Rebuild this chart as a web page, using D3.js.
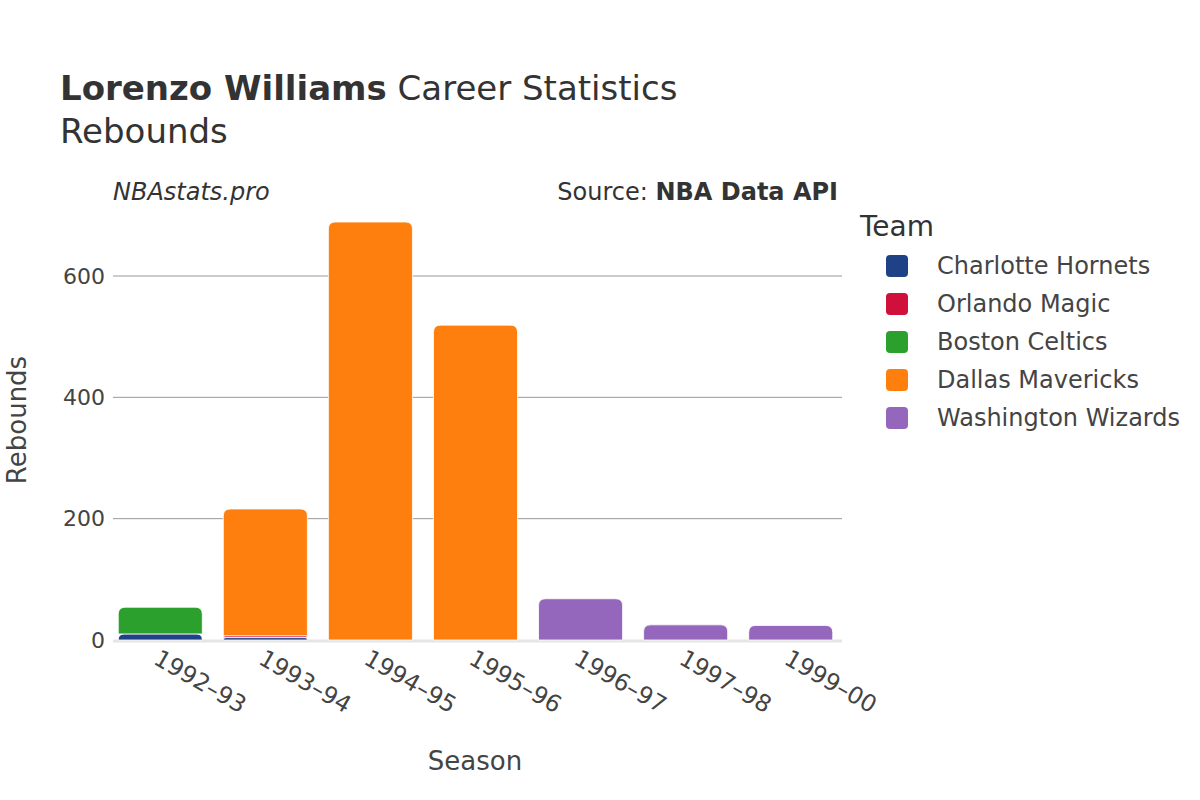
<!DOCTYPE html>
<html><head><meta charset="utf-8">
<script src="https://cdn.jsdelivr.net/npm/d3@7"></script>
<style>body{margin:0;background:#fff;font-family:"DejaVu Sans",sans-serif;}</style>
</head><body><div id="chart"></div>
<script>
const seasons = ["1992-93","1993-94","1994-95","1995-96","1996-97","1997-98","1999-00"];
const teams = ["Charlotte Hornets","Orlando Magic","Boston Celtics","Dallas Mavericks","Washington Wizards"];
const colors = ["#1f4287","#d0103a","#2ca02c","#ff7f0e","#9467bd"];
const charlotte = [10,4,0,0,0,0,0];
const orlando = [0,3,0,0,0,0,0];
const boston = [44,0,0,0,0,0,0];
const dallas = [0,209,689,519,0,0,0];
const washington = [0,0,0,0,68,25,24];
const yTicks = [0,200,400,600];

const series = [charlotte, orlando, boston, dallas, washington];
const width = 1200, height = 800;
const svg = d3.select("#chart").append("svg").attr("width", width).attr("height", height);

const x = d3.scaleBand().domain(seasons).range([113, 838]).paddingInner(0.2).paddingOuter(0.05);
const y = d3.scaleLinear().domain([0, 600]).range([640, 276]);

// gridlines
svg.append("g").selectAll("line").data(yTicks.filter(d => d > 0)).join("line")
  .attr("x1", 113).attr("x2", 842).attr("y1", d => y(d)).attr("y2", d => y(d))
  .attr("stroke", "#999").attr("stroke-width", 1);
svg.append("line").attr("x1", 113).attr("x2", 842).attr("y1", y(0) + 1).attr("y2", y(0) + 1)
  .attr("stroke", "#e5e5e5").attr("stroke-width", 3);

function topRounded(x0, y0, w, h, r) {
  r = Math.min(r, h, w / 2);
  return `M${x0},${y0 + h}V${y0 + r}Q${x0},${y0} ${x0 + r},${y0}H${x0 + w - r}Q${x0 + w},${y0} ${x0 + w},${y0 + r}V${y0 + h}Z`;
}

seasons.forEach((s, i) => {
  let base = 0;
  series.forEach((arr, k) => {
    const v = arr[i];
    if (!v) return;
    const y0 = y(base + v), y1 = y(base);
    svg.append("path")
      .attr("d", topRounded(x(s), y0, x.bandwidth(), y1 - y0, 7))
      .attr("fill", colors[k]).attr("stroke", "#fff").attr("stroke-width", 0.8);
    base += v;
  });
});

// y axis labels
svg.append("g").selectAll("text").data(yTicks).join("text")
  .attr("x", 105).attr("y", d => y(d)).attr("dy", "0.35em").attr("text-anchor", "end")
  .attr("font-size", 22).attr("fill", "#444").text(d => d);

// x axis labels
svg.append("g").selectAll("text").data(seasons).join("text")
  .attr("transform", d => `translate(${x(d) + x.bandwidth() / 2 - 8},${663}) rotate(30)`)
  .attr("font-size", 23.5).attr("fill", "#444").text(d => d.replace("-", "–"));

svg.append("text").attr("x", 475).attr("y", 770).attr("text-anchor", "middle")
  .attr("font-size", 26).attr("fill", "#444").text("Season");
svg.append("text").attr("transform", "translate(26,420) rotate(-90)").attr("text-anchor", "middle")
  .attr("font-size", 26).attr("fill", "#444").text("Rebounds");

// title
const t = svg.append("text").attr("x", 60).attr("y", 100).attr("font-size", 34).attr("fill", "#333");
t.append("tspan").attr("font-weight", "bold").text("Lorenzo Williams");
t.append("tspan").text(" Career Statistics");
svg.append("text").attr("x", 60).attr("y", 143).attr("font-size", 34).attr("fill", "#333").text("Rebounds");

svg.append("text").attr("x", 113).attr("y", 200).attr("font-size", 24).attr("font-style", "italic")
  .attr("fill", "#333").text("NBAstats.pro");
const src = svg.append("text").attr("x", 838).attr("y", 200).attr("text-anchor", "end")
  .attr("font-size", 24).attr("fill", "#333");
src.append("tspan").text("Source: ");
src.append("tspan").attr("font-weight", "bold").text("NBA Data API");

// legend
svg.append("text").attr("x", 860).attr("y", 236).attr("font-size", 28).attr("fill", "#333").text("Team");
const lg = svg.append("g").selectAll("g").data(teams).join("g")
  .attr("transform", (d, i) => `translate(886,${266 + i * 38})`);
lg.append("rect").attr("x", 0).attr("y", -11).attr("width", 22).attr("height", 22).attr("rx", 4)
  .attr("fill", (d, i) => colors[i]);
lg.append("text").attr("x", 51).attr("dy", "0.35em").attr("font-size", 24).attr("fill", "#444").text(d => d);
</script></body></html>
